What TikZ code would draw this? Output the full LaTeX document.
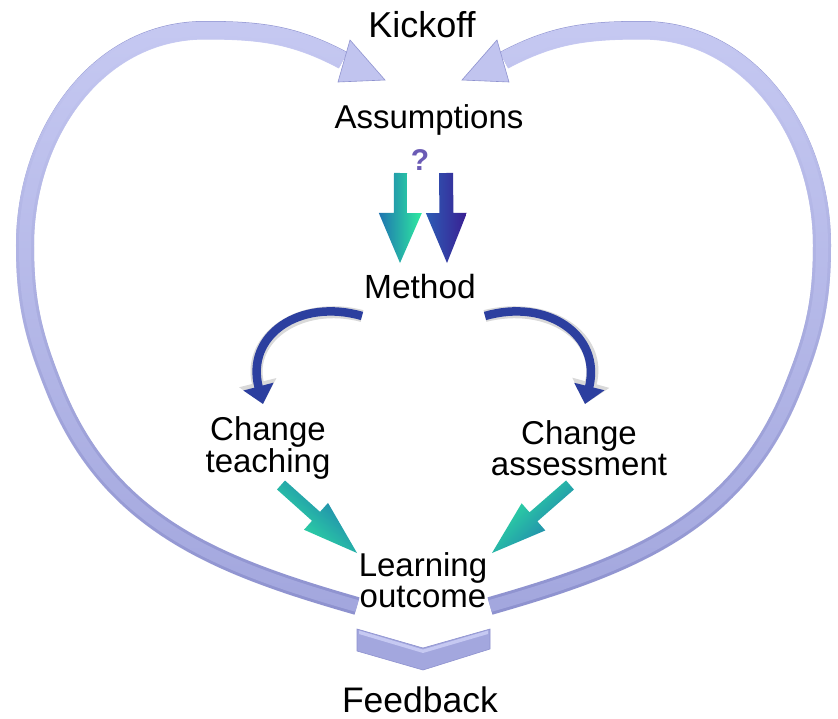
\documentclass[tikz,border=0pt]{standalone}
\usepackage{fontspec}
\setmainfont{Liberation Sans}
\usetikzlibrary{arrows.meta,calc,fadings}
\definecolor{lav}{HTML}{A3A7DE}
\definecolor{lavdark}{HTML}{8E92CF}
\definecolor{lavlight}{HTML}{C6C9F2}
\definecolor{navy}{HTML}{2C3F9F}
\definecolor{tealg}{HTML}{2EEBA0}
\definecolor{tealb}{HTML}{1F74B0}
\definecolor{indigo}{HTML}{3A1E92}
\definecolor{bluem}{HTML}{2D5CB5}
\definecolor{qpurple}{HTML}{6B5BB5}
\newcommand\heartpath{(357,606) to[out=164, in=-68] (55,390) to[out=112, in=-90] (25,245) to[out=90, in=180] (205,30) to[out=0, in=152] (343,60)}
\newcommand\fatarr[6]{%
  \coordinate (fa-b) at ($(#2)!#5!(#1)$);
  \shade[#6] ($(#1)!#3!90:(#2)$) -- ($(fa-b)!#3!-90:(#1)$) -- ($(fa-b)!#4!-90:(#1)$) -- (#2) -- ($(fa-b)!#4!90:(#1)$) -- ($(fa-b)!#3!90:(#1)$) -- ($(#1)!#3!-90:(#2)$) -- cycle;}
\begin{document}
\begin{tikzpicture}[x=1pt,y=-1pt,
  lbl/.style={inner sep=0pt, align=center},
  fs/.style={font=\fontsize{#1}{31.5}\selectfont},
  band/.style={line width=18pt},
  navyarrow/.style={navy, line width=8.5pt, -{Triangle[width=30pt,length=18pt]}},
  navyshadow/.style={black!15, line width=12pt, -{Triangle[width=37pt,length=22pt]}}]
\useasboundingbox (0,0) rectangle (838,718);
\fill[white] (0,0) rectangle (838,718);

% heart band, left and right
\foreach \s/\sh in {1/0, -1/847}{
\begin{scope}[xshift=\sh pt, xscale=\s]
  \draw[lavdark, band] \heartpath;
  \draw[lav, line width=12pt] \heartpath;
  \draw[lavlight, band, path fading=south] \heartpath;
  \fill[lavlight!85!lav, draw=lavdark, line width=0.6pt] (350,40) -- (385,80) -- (338,82) -- cycle;
\end{scope}}

% feedback chevron
\fill[lav, draw=lavdark, line width=0.6pt] (357,629) -- (423,648) -- (490,629) -- (490,649) -- (423,670) -- (357,651) -- cycle;
\fill[lavlight] (359,630.5) -- (423,649.5) -- (488,630.5) -- (488,634) -- (423,653) -- (359,634) -- cycle;

% labels
\node[lbl, fs=36, anchor=base] (kick) at (422,37) {Kickoff};
\node[lbl, fs=33, anchor=base] (assu) at (429,128) {Assumptions};
\node[lbl, fs=33.5, anchor=base] (meth) at (420,298) {Method};
\node[lbl, fs=33] (teach) at (268,448) {Change\\teaching};
\node[lbl, fs=33] (asse) at (579,448) {Change\\assessment};
\node[lbl, fs=33] (learn) at (423,580) {Learning\\outcome};
\node[lbl, fs=35.5, anchor=base] (feed) at (420,712) {Feedback};
\node[font=\fontsize{30}{30}\selectfont\bfseries, text=qpurple, inner sep=0pt] (q) at (420,160) {?};

% down arrows from Assumptions to Method
\coordinate (gS) at (400.5,173); \coordinate (gT) at (400,263);
\coordinate (bS) at (446,173);   \coordinate (bT) at (447,263);
\fatarr{gS}{gT}{6.5pt}{21.5pt}{50pt}{left color=tealb, right color=tealg}
\fatarr{bS}{bT}{7pt}{20.5pt}{50pt}{left color=bluem, right color=indigo}

% curved arrows from Method
\coordinate (mL) at (362,316); \coordinate (tL) at (263,404);
\coordinate (mR) at (485,316); \coordinate (tR) at (585,404);
\draw[navyshadow, shift={(1.5,2)}] (mL) .. controls (300,298) and (245,335) .. (tL);
\draw[navyshadow, shift={(1.5,2)}] (mR) .. controls (547,298) and (602,335) .. (tR);
\draw[navyarrow] (mL) .. controls (300,298) and (245,335) .. (tL);
\draw[navyarrow] (mR) .. controls (547,298) and (602,335) .. (tR);

% diagonal arrows to Learning outcome
\coordinate (dLS) at (281,485); \coordinate (dLT) at (357,553);
\coordinate (dRS) at (570,485); \coordinate (dRT) at (492,553);
\fatarr{dLS}{dLT}{6pt}{18pt}{55pt}{left color=tealg, right color=tealb, shading angle=138}
\fatarr{dRS}{dRT}{6pt}{18pt}{55pt}{left color=tealg, right color=tealb, shading angle=45}
\end{tikzpicture}
\end{document}
